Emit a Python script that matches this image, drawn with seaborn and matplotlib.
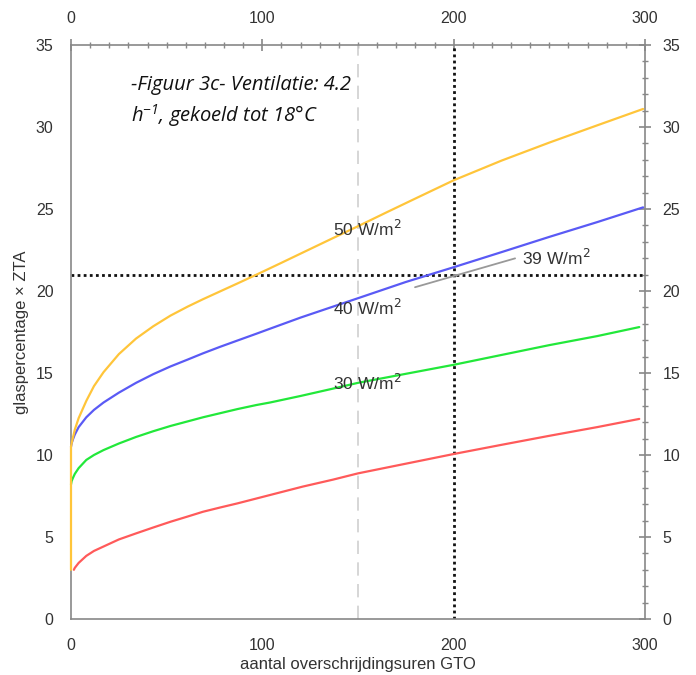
import numpy as np
import pandas as pd
import matplotlib
matplotlib.use("Agg")
import matplotlib.pyplot as plt
import seaborn as sns
from matplotlib.ticker import MultipleLocator

# ---- data ----
series_names = ["50 W/m2", "40 W/m2", "30 W/m2", "red"]

x_50 = [0, 0, 0.3, 1, 2, 4, 8, 12, 17, 25, 34, 43, 52, 61, 69, 78, 87, 97, 110, 120,
        137, 150, 165, 182, 200, 225, 250, 275, 299]
y_50 = [3.0, 10.5, 10.7, 11.05, 11.55, 12.25, 13.3, 14.2, 15.05, 16.15, 17.1, 17.85,
        18.5, 19.05, 19.5, 19.98, 20.46, 21.0, 21.72, 22.28, 23.23, 23.95, 24.8, 25.75,
        26.75, 27.95, 29.05, 30.1, 31.1]

x_40 = [0, 0.3, 1, 2, 4, 8, 12, 17, 25, 34, 43, 52, 61, 69, 78, 87, 97, 104, 120, 137,
        151, 175, 200, 225, 250, 275, 299]
y_40 = [10.5, 10.7, 10.95, 11.25, 11.7, 12.3, 12.75, 13.2, 13.8, 14.4, 14.93, 15.4,
        15.82, 16.2, 16.6, 16.98, 17.4, 17.7, 18.38, 19.05, 19.6, 20.55, 21.45, 22.37,
        23.3, 24.2, 25.1]

x_30 = [0, 0.3, 1, 2, 4, 8, 12, 17, 25, 34, 43, 52, 61, 69, 78, 87, 97, 104, 120, 137,
        150, 175, 200, 225, 250, 275, 297]
y_30 = [8.2, 8.4, 8.6, 8.85, 9.2, 9.7, 10.0, 10.3, 10.7, 11.1, 11.45, 11.77, 12.05,
        12.3, 12.55, 12.8, 13.05, 13.2, 13.6, 14.05, 14.4, 14.95, 15.5, 16.1, 16.7,
        17.25, 17.8]

x_red = [1.5, 2, 4, 8, 12, 17, 25, 34, 43, 52, 61, 69, 78, 87, 97, 104, 121, 137, 150,
         175, 200, 225, 250, 275, 297]
y_red = [3.0, 3.12, 3.42, 3.85, 4.15, 4.42, 4.85, 5.22, 5.58, 5.93, 6.25, 6.54, 6.8,
         7.05, 7.35, 7.56, 8.07, 8.5, 8.88, 9.47, 10.06, 10.62, 11.17, 11.7, 12.2]

colors = ["#FFC53A", "#5A5AF5", "#22E83A", "#FF5A5A"]

label_texts = ["50 W/m$^2$", "40 W/m$^2$", "30 W/m$^2$"]
label_x = [137, 137, 137]
label_y = [23.8, 18.95, 14.37]

ann_text = "39 W/m$^2$"
ann_line_x = [179.8, 232.1]
ann_line_y = [20.23, 21.99]
ann_text_xy = (235.6, 22.0)

ref_x_dash = 150
ref_x_dot = 200
ref_y_dot = 21

x_ticks = [0, 100, 200, 300]
y_ticks = [0, 5, 10, 15, 20, 25, 30, 35]

title_line1 = "-Figuur 3c- Ventilatie: 4.2"
title_line2 = r"h$^{\mathregular{-1}}$, gekoeld tot 18°C"

# ---- build long table ----
rows = []
for name, xs, ys in zip(series_names, [x_50, x_40, x_30, x_red], [y_50, y_40, y_30, y_red]):
    for i, (xv, yv) in enumerate(zip(xs, ys)):
        rows.append({"series": name, "x": xv, "y": yv, "order": i})
df = pd.DataFrame(rows)

sns.set_theme(style="white")
plt.rcParams["font.family"] = ["Liberation Sans", "DejaVu Sans"]

fig = plt.figure(figsize=(6.96, 6.75), dpi=100)
ax = fig.add_axes([71 / 696, 1 - 619 / 675, (645 - 71) / 696, (619 - 45) / 675])

# reference lines
ax.axvline(ref_x_dash, color="#cfcfcf", lw=1.2, ls=(0, (8, 5)), zorder=1)
ax.axvline(ref_x_dot, color="#111111", lw=2.0, ls=(0, (1, 1.2)), zorder=2)
ax.axhline(ref_y_dot, color="#111111", lw=2.0, ls=(0, (1, 1.2)), zorder=2)

draw_order = ["red", "30 W/m2", "40 W/m2", "50 W/m2"]
pal = dict(zip(series_names, colors))
for name in draw_order:
    sub = df[df["series"] == name].sort_values("order")
    sns.lineplot(data=sub, x="x", y="y", color=pal[name], lw=1.6, sort=False,
                 estimator=None, ax=ax, legend=False, zorder=3, clip_on=False)

for t, lx, ly in zip(label_texts, label_x, label_y):
    ax.text(lx, ly, t, fontsize=12.5, color="#333333", va="center", ha="left", zorder=4)

ax.plot(ann_line_x, ann_line_y, color="#999999", lw=1.3, zorder=4)
ax.text(ann_text_xy[0], ann_text_xy[1], ann_text, fontsize=12.5, color="#333333",
        va="center", ha="left", zorder=4)

tfam = ["Open Sans", "DejaVu Sans"]
ax.text(31.4, 32.56, title_line1, fontsize=14.5, family=tfam, style="italic",
        color="#111111", va="center", ha="left")
ax.text(31.4, 30.67, title_line2, fontsize=14.5, family=tfam, style="italic",
        color="#111111", va="center", ha="left")

ax.set_xlim(0, 300)
ax.set_ylim(0, 35)
ax.set_xticks(x_ticks)
ax.set_yticks(y_ticks)
ax.xaxis.set_minor_locator(MultipleLocator(10))
ax.yaxis.set_minor_locator(MultipleLocator(1))
ax.tick_params(which="both", top=True, right=True, labeltop=True, labelright=True,
               direction="inout", color="#888888", labelcolor="#333333")
ax.tick_params(which="major", length=9, width=1.2, labelsize=11.5)
ax.tick_params(axis="x", which="major", pad=9)
ax.tick_params(axis="y", which="major", pad=8)
ax.tick_params(which="minor", length=5, width=1.0)
for s in ax.spines.values():
    s.set_color("#888888")
    s.set_linewidth(1.2)

ax.set_xlabel("aantal overschrijdingsuren GTO", fontsize=12, color="#333333", labelpad=3)
ax.set_ylabel("glaspercentage × ZTA", fontsize=12, color="#333333", labelpad=5)

fig.savefig("out.png", dpi=100)
